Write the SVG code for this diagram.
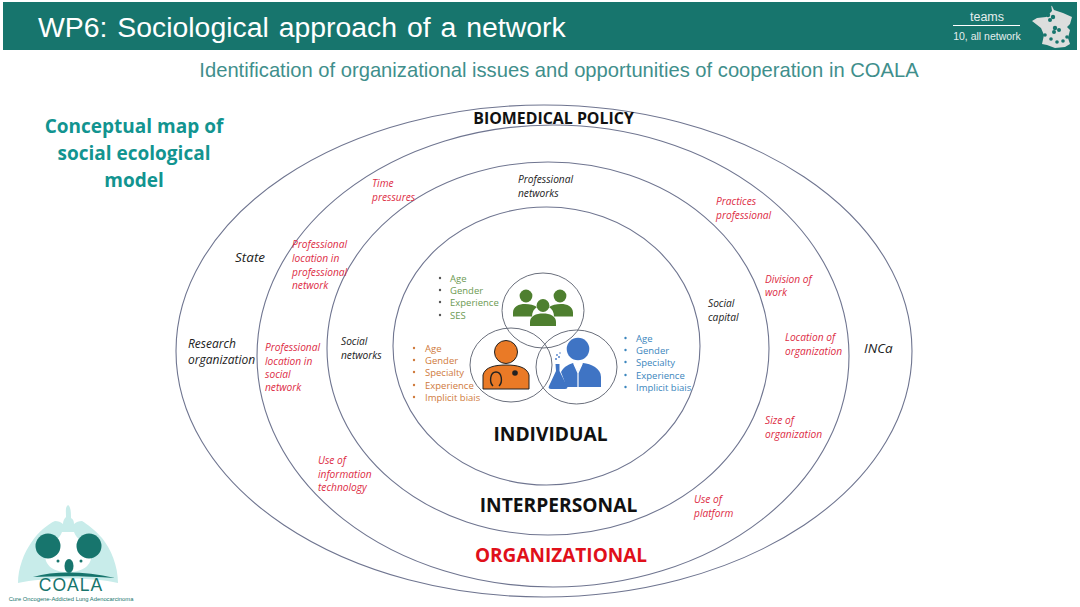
<svg xmlns="http://www.w3.org/2000/svg" width="1080" height="607" viewBox="0 0 1080 607">
<style>
text{font-family:"Open Sans","Liberation Sans",sans-serif}
.h{font-family:"Liberation Sans",sans-serif}
.c{fill:none;stroke:#6f7590;stroke-width:1.1}
.v{fill:none;stroke:#6a6f7c;stroke-width:1}
.r{fill:#dd2c45;font-size:10.200px;font-style:italic}
.k{fill:#222;font-size:10.200px;font-style:italic}
.g{fill:#6c9a52;font-size:9.500px}
.o{fill:#cf7a3c;font-size:9.500px}
.b{fill:#3b86bd;font-size:9.500px}
.t{font-weight:700;text-anchor:middle}
</style>
<rect width="1080" height="607" fill="#fff"/>
<g id="header">
<rect x="3" y="2" width="1074" height="48" fill="#17756d"/>
<text class="h" x="38" y="37" font-size="28.400" fill="#fff" word-spacing="2">WP6: Sociological approach of a network</text>
<text class="h" x="987" y="21" font-size="12.500" fill="#e4eeee" text-anchor="middle">teams</text>
<line x1="953" y1="25.500" x2="1020" y2="25.500" stroke="#fff"/>
<text class="h" x="987" y="40" font-size="10.500" fill="#e4eeee" text-anchor="middle">10, all network</text>
<path d="M1051 4l3 6 9 3 9 4-2 7-3 3 3 3-2 8 2 6-5 3-10 1-8-3-5-1 2-9-3-7-9-7 5-3 9-1 6-6z" fill="#dcdedd"/>
<g fill="#17756d"><circle cx="1051" cy="4" r="2"/><circle cx="1048" cy="15" r="2.200"/><circle cx="1053" cy="17" r="2.200"/><circle cx="1050" cy="20" r="2"/><circle cx="1055" cy="28" r="2.200"/><circle cx="1059" cy="30" r="2"/><circle cx="1054" cy="32" r="2"/><circle cx="1045" cy="35" r="1.800"/><circle cx="1051" cy="39" r="1.800"/><circle cx="1057" cy="42" r="1.800"/><circle cx="1063" cy="41" r="1.800"/><circle cx="1067" cy="37" r="1.800"/></g>
</g>
<text id="subtitle" class="h" x="559" y="77" font-size="20.200" fill="#3f8f8c" text-anchor="middle">Identification of organizational issues and opportunities of cooperation in COALA</text>
<g id="map-title" fill="#129490" font-size="19" class="t"><text x="134" y="133">Conceptual map of</text><text x="134" y="160">social ecological</text><text x="134" y="187">model</text></g>
<g id="biomedical-policy"><ellipse class="c" cx="544" cy="351" rx="368" ry="246"/><text class="t" x="553.500" y="124" font-size="15.900" fill="#111">BIOMEDICAL POLICY</text></g>
<g id="organizational"><ellipse class="c" cx="553" cy="356" rx="296" ry="231"/><text class="t" x="561" y="562" font-size="19" fill="#e0101a">ORGANIZATIONAL</text></g>
<g id="interpersonal"><ellipse class="c" cx="548" cy="348.500" rx="221" ry="186.500"/><text class="t" x="558.500" y="512" font-size="19.200" fill="#111">INTERPERSONAL</text></g>
<g id="individual"><ellipse class="c" cx="546.500" cy="346" rx="153.500" ry="139"/><text class="t" x="550.500" y="441" font-size="19.200" fill="#111">INDIVIDUAL</text></g>
<g id="group-team"><ellipse class="v" cx="543" cy="310.500" rx="41" ry="37.500"/>
<g fill="#4e7f2f"><circle cx="526" cy="296" r="6.400"/><path d="M513 316.500v-4c0-6 6-8.500 12-8.500 5 0 9 1 12 3-3 2-5 5-5 9.500z"/><circle cx="560" cy="296" r="6.400"/><path d="M573 316.500v-4c0-6-6-8.500-12-8.500-5 0-9 1-12 3 3 2 5 5 5 9.500z"/><circle cx="543" cy="305.500" r="6.400"/><path d="M530 326v-4c0-6 6-8.500 13-8.500s13 2.500 13 8.500v4z"/></g>
<g class="g"><text x="450" y="282">Age</text><text x="450" y="294">Gender</text><text x="450" y="306">Experience</text><text x="450" y="319">SES</text><circle cx="440" cy="278" r="1.200" fill="#555"/><circle cx="440" cy="290" r="1.200" fill="#555"/><circle cx="440" cy="302" r="1.200" fill="#555"/><circle cx="440" cy="315" r="1.200" fill="#555"/></g></g>
<g id="group-doctor"><ellipse class="v" cx="511" cy="365" rx="41" ry="37"/>
<circle cx="506" cy="352" r="11.500" fill="#ea7a26" stroke="#222"/><path d="M483 389v-14c2-8 12-10 23-10s21 2 23 10v14z" fill="#ea7a26" stroke="#222"/><circle cx="515" cy="373" r="2.800" fill="#222"/><path d="M493 386c-4-4-3-14 3-14s7 10 3 14" fill="none" stroke="#222" stroke-width="1.400"/>
<g class="o"><text x="425" y="352">Age</text><text x="425" y="364">Gender</text><text x="425" y="376">Specialty</text><text x="425" y="389">Experience</text><text x="425" y="401">Implicit biais</text><circle cx="414" cy="348" r="1.200"/><circle cx="414" cy="360" r="1.200"/><circle cx="414" cy="372" r="1.200"/><circle cx="414" cy="385" r="1.200"/><circle cx="414" cy="397" r="1.200"/></g></g>
<g id="group-researcher"><ellipse class="v" cx="576.500" cy="367" rx="40.500" ry="37"/>
<g fill="#3f74c4"><circle cx="578" cy="349" r="11.300"/><path d="M566 387l-2-7-3-8c3-6 9-8 12-9l5 9 5-9c8 1 18 5 18 14v10z"/><path d="M555.500 364h4v7l7.500 15c1 2 0 3-2 3h-14c-2 0-3-1-2-3l7-15z"/></g><path d="M574 364l4 9 4-9M578 373v14" fill="none" stroke="#fff" stroke-width="1.200"/>
<g fill="#4f7fc9"><circle cx="556" cy="359" r="1"/><circle cx="559" cy="357" r="1"/><circle cx="557" cy="355" r="0.900"/><circle cx="560" cy="353" r="0.800"/></g>
<g class="b"><text x="636" y="342">Age</text><text x="636" y="354">Gender</text><text x="636" y="366">Specialty</text><text x="636" y="379">Experience</text><text x="636" y="391">Implicit biais</text><circle cx="625.500" cy="338" r="1.200"/><circle cx="625.500" cy="350" r="1.200"/><circle cx="625.500" cy="362" r="1.200"/><circle cx="625.500" cy="375" r="1.200"/><circle cx="625.500" cy="387" r="1.200"/></g></g>
<g id="labels-black" class="k">
<text x="235" y="262" font-size="13.500">State</text>
<text x="188" y="348" font-size="12">Research</text><text x="188" y="364" font-size="12">organization</text>
<text x="864" y="353" font-size="13.500">INCa</text>
<text x="518" y="183">Professional</text><text x="518" y="197">networks</text>
<text x="341" y="345">Social</text><text x="341" y="359">networks</text>
<text x="708" y="307">Social</text><text x="708" y="321">capital</text>
</g>
<g id="labels-red" class="r">
<text x="372" y="187">Time</text><text x="372" y="201">pressures</text>
<text x="292" y="248">Professional</text><text x="292" y="262">location in</text><text x="292" y="276">professional</text><text x="292" y="289">network</text>
<text x="265" y="351">Professional</text><text x="265" y="365">location in</text><text x="265" y="378">social</text><text x="265" y="391">network</text>
<text x="318" y="464">Use of</text><text x="318" y="478">information</text><text x="318" y="491">technology</text>
<text x="716" y="205">Practices</text><text x="716" y="219">professional</text>
<text x="765" y="283">Division of</text><text x="765" y="296">work</text>
<text x="785" y="341">Location of</text><text x="785" y="355">organization</text>
<text x="765" y="424">Size of</text><text x="765" y="438">organization</text>
<text x="694" y="503">Use of</text><text x="694" y="517">platform</text>
</g>
<g id="coala-logo">
<path d="M68 505c3 2 3 8 3 13 2 1 3 3 3 6 2-2 5-3 8-3 5 3 14 10 20 17 9 11 16 28 16 45-25-6-74-6-100 0 0-15 6-30 13-40 7-11 17-19 24-22 3 0 6 1 8 3 0-3 1-5 3-7 0-5-1-10 2-12z" fill="#c8ecea"/>
<path d="M62 532h12c2 7 12 12 17 20 2 12-6 20-23 20s-24-8-23-20c5-8 15-13 17-20z" fill="#fff"/>
<circle cx="48" cy="546" r="12.500" fill="#17756d"/><circle cx="89" cy="546" r="12.500" fill="#17756d"/>
<ellipse cx="69" cy="566" rx="4.500" ry="7" fill="#17756d"/><circle cx="58" cy="561" r="1.500" fill="#17756d"/><circle cx="81" cy="561" r="1.500" fill="#17756d"/>
<path d="M33 577c22-6 50-6 82 1-28-2-56-2-82-1z" fill="#17756d"/>
<text class="h" x="71" y="591" font-size="17.500" fill="#17756d" text-anchor="middle" letter-spacing="1">COALA</text>
<text class="h" x="71" y="601" font-size="5.800" fill="#17756d" text-anchor="middle">Cure Oncogene-Addicted Lung Adenocarcinoma</text>
</g>
</svg>
